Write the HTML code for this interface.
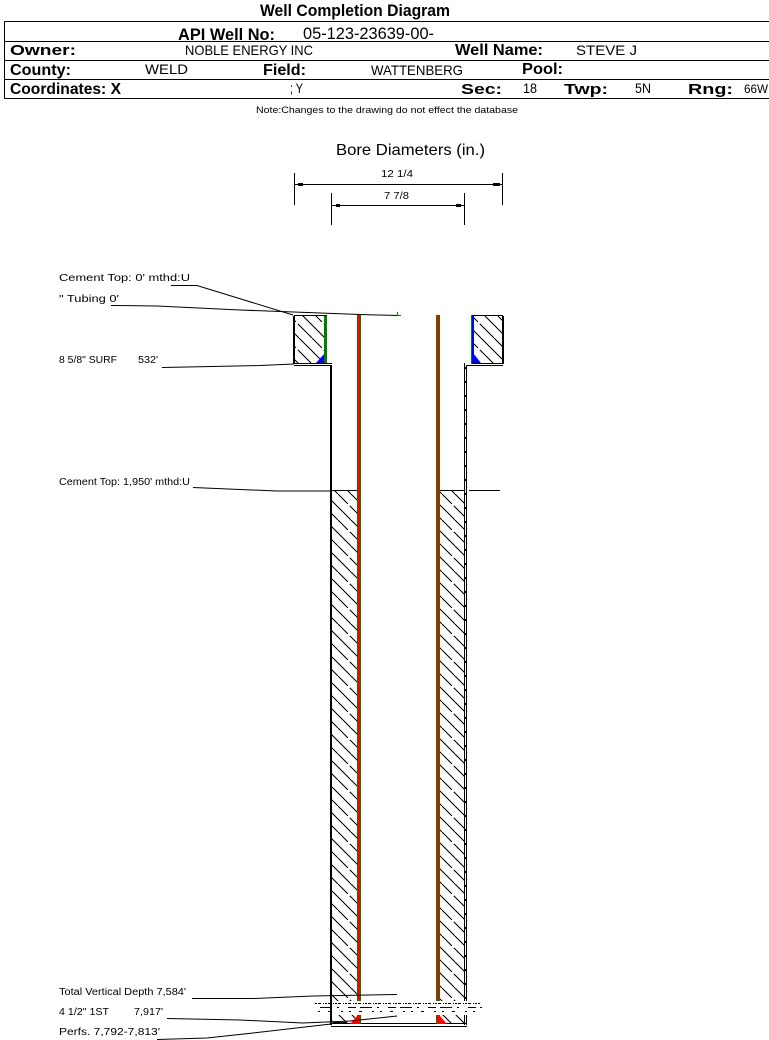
<!DOCTYPE html>
<html>
<head>
<meta charset="utf-8">
<style>
html,body{margin:0;padding:0;background:#fff;width:769px;height:1040px;overflow:hidden}
svg{display:block}
text{font-family:"Liberation Sans",sans-serif;fill:#000}
.c{shape-rendering:crispEdges}
</style>
</head>
<body>
<svg width="769" height="1040" viewBox="0 0 769 1040" xmlns="http://www.w3.org/2000/svg">
<defs>
<pattern id="h" width="26" height="26" patternUnits="userSpaceOnUse">
<path class="c" d="M-1,-1L10,10M12,12L27,27M12,-1L27,14M-1,12L13,26" stroke="#000" stroke-width="1" fill="none"/>
</pattern>
</defs>

<text x="260" y="16" font-size="16.5" font-weight="bold" textLength="190" lengthAdjust="spacingAndGlyphs">Well Completion Diagram</text>

<g class="c" fill="none" stroke="#000" stroke-width="1">
<path d="M4.5,21.5H769M4.5,41.5H769M4.5,60.5H769M4.5,79.5H769M4.5,98.5H769M4.5,21.5V98.5"/>
</g>

<text x="178" y="40" font-size="16.5" font-weight="bold" textLength="97" lengthAdjust="spacingAndGlyphs">API Well No:</text>
<text x="303" y="39" font-size="16.5" textLength="131" lengthAdjust="spacingAndGlyphs">05-123-23639-00-</text>
<text x="10" y="55" font-size="15" font-weight="bold" textLength="66" lengthAdjust="spacingAndGlyphs">Owner:</text>
<text x="185" y="55" font-size="14" textLength="128" lengthAdjust="spacingAndGlyphs">NOBLE ENERGY INC</text>
<text x="455" y="55" font-size="16" font-weight="bold" textLength="88" lengthAdjust="spacingAndGlyphs">Well Name:</text>
<text x="576" y="55" font-size="14" textLength="61" lengthAdjust="spacingAndGlyphs">STEVE J</text>

<text x="10" y="75" font-size="16" font-weight="bold" textLength="61" lengthAdjust="spacingAndGlyphs">County:</text>
<text x="145" y="74" font-size="14" textLength="43" lengthAdjust="spacingAndGlyphs">WELD</text>
<text x="263" y="75" font-size="16" font-weight="bold" textLength="43" lengthAdjust="spacingAndGlyphs">Field:</text>
<text x="371" y="75" font-size="14" textLength="92" lengthAdjust="spacingAndGlyphs">WATTENBERG</text>
<text x="522" y="74" font-size="16" font-weight="bold" textLength="41" lengthAdjust="spacingAndGlyphs">Pool:</text>

<text x="10" y="94" font-size="16" font-weight="bold" textLength="111" lengthAdjust="spacingAndGlyphs">Coordinates: X</text>
<text x="290" y="93" font-size="14" textLength="13" lengthAdjust="spacingAndGlyphs">; Y</text>
<text x="461" y="94" font-size="15" font-weight="bold" textLength="41" lengthAdjust="spacingAndGlyphs">Sec:</text>
<text x="523" y="93" font-size="14" textLength="14" lengthAdjust="spacingAndGlyphs">18</text>
<text x="564" y="94" font-size="15" font-weight="bold" textLength="44" lengthAdjust="spacingAndGlyphs">Twp:</text>
<text x="635" y="93" font-size="14" textLength="16" lengthAdjust="spacingAndGlyphs">5N</text>
<text x="688" y="94" font-size="15" font-weight="bold" textLength="45" lengthAdjust="spacingAndGlyphs">Rng:</text>
<text x="744" y="93" font-size="12" textLength="24" lengthAdjust="spacingAndGlyphs">66W</text>

<text x="256" y="113" font-size="9.5" textLength="262" lengthAdjust="spacingAndGlyphs">Note:Changes to the drawing do not effect the database</text>

<text x="336" y="155" font-size="16" textLength="149" lengthAdjust="spacingAndGlyphs">Bore Diameters (in.)</text>
<text x="381" y="177" font-size="10.5" textLength="32" lengthAdjust="spacingAndGlyphs">12 1/4</text>
<text x="384" y="199" font-size="10.5" textLength="25" lengthAdjust="spacingAndGlyphs">7 7/8</text>

<g class="c" stroke="#000" stroke-width="1" fill="none">
<path d="M294.5,173V205M502.5,173V205M331.5,193V225M464.5,193V225"/>
<path d="M295,184.5H502M332,205.5H464"/>
</g>
<g class="c" fill="#000">
<rect x="298" y="183" width="5" height="3"/><rect x="493" y="183" width="7" height="3"/>
<rect x="336" y="204" width="4" height="3"/><rect x="456" y="204" width="5" height="3"/>
</g>

<!-- hatch -->
<rect x="295" y="316" width="30" height="47" fill="url(#h)"/>
<rect x="473" y="316" width="29" height="47" fill="url(#h)"/>
<rect x="332" y="491" width="25" height="510" fill="url(#h)"/>
<rect x="440" y="491" width="24" height="510" fill="url(#h)"/>
<rect x="332" y="1015" width="25" height="9" fill="url(#h)"/>
<rect x="440" y="1015" width="24" height="9" fill="url(#h)"/>

<!-- surface casing wedges -->
<path d="M325,353V363H316Z" fill="#00f"/>
<path d="M473,353V363H481Z" fill="#00f"/>
<g class="c">
<rect x="324" y="315" width="3" height="49" fill="#008000"/>
<rect x="471" y="315" width="3" height="49" fill="#00f"/>
<rect x="471" y="315" width="1" height="49" fill="#008000"/>
</g>

<!-- block outlines -->
<g class="c" fill="none" stroke="#000" stroke-width="1">
<path d="M294,315.5H327M472,315.5H503M473,363.5H503"/>
<path d="M294,363.5H332M294,365.5H331"/>
<path d="M464.5,363V1025M466.5,365V1025M466,365.5H503"/>
<path d="M332,1023.5H466M331,1026.5H467"/>
<path d="M332,490.5H358M440,490.5H464"/>
</g>
<g class="c" fill="#000">
<rect x="293" y="316" width="2" height="48"/>
<rect x="502" y="316" width="2" height="48"/>
<rect x="330" y="365" width="2" height="660"/>
</g>
<path class="c" d="M465.5,367V1025" stroke="#000" stroke-width="1" stroke-dasharray="2 12" fill="none"/>

<!-- tubing -->
<g class="c">
<rect x="357" y="315" width="4" height="686" fill="#008000"/>
<rect x="358" y="315" width="2" height="686" fill="#f00"/>
<rect x="436" y="315" width="4" height="686" fill="#008000"/>
<rect x="437" y="315" width="2" height="686" fill="#f00"/>
<rect x="357" y="1015" width="4" height="9" fill="#008000"/>
<rect x="436" y="1015" width="4" height="9" fill="#008000"/>
</g>
<path d="M350,1024L358,1015H360V1024Z" fill="#f00"/>
<path d="M437,1015H439L447,1024H437Z" fill="#f00"/>

<!-- gap with dashes -->
<rect x="315" y="1001" width="168" height="14" fill="#fff" class="c"/>
<g class="c" fill="none" stroke="#000" stroke-width="1">
<path d="M315,1003.5H480" stroke-dasharray="2 1 3 2 1 1"/>
<path d="M320,1007.5H482" stroke-dasharray="12 5 2 9 8 4"/>
<path d="M318,1011.5H478" stroke-dasharray="2 8 3 10 2 6"/>
</g>
<path class="c" d="M331,1001V1015" stroke="#000" stroke-width="2"/>

<!-- leader lines -->
<g fill="none" stroke="#000" stroke-width="1">
<path d="M171,285.5H197L293,315"/>
<path d="M111,305.5L157,306L240,310L360,314.5L398,315.5"/>
<path d="M162,367.5L260,365.5L294,364"/>
<path d="M193,487.5L277,491H331M469,490.5H500"/>
<path d="M192,998.5H253L313,996L397,994.5"/>
<path d="M167,1018.5L240,1020L303,1023L350,1021L397,1016"/>
<path d="M157,1039.5L207,1038L253,1033L331,1024"/>
</g>
<path class="c" d="M397.5,312V316M397,315.5H401" stroke="#008000" fill="none"/>
<rect class="c" x="333" y="1022" width="13" height="2" fill="#000"/>

<!-- labels -->
<g font-size="10">
<text x="59" y="281" textLength="131" lengthAdjust="spacingAndGlyphs">Cement Top: 0' mthd:U</text>
<text x="59" y="302" textLength="60" lengthAdjust="spacingAndGlyphs">" Tubing 0'</text>
<text x="59" y="363" textLength="58" lengthAdjust="spacingAndGlyphs">8 5/8" SURF</text>
<text x="138" y="363" textLength="20" lengthAdjust="spacingAndGlyphs">532'</text>
<text x="59" y="485" textLength="131" lengthAdjust="spacingAndGlyphs">Cement Top: 1,950' mthd:U</text>
<text x="59" y="995" textLength="127" lengthAdjust="spacingAndGlyphs">Total Vertical Depth 7,584'</text>
<text x="59" y="1015" textLength="50" lengthAdjust="spacingAndGlyphs">4 1/2" 1ST</text>
<text x="134" y="1015" textLength="29" lengthAdjust="spacingAndGlyphs">7,917'</text>
<text x="59" y="1035" textLength="101" lengthAdjust="spacingAndGlyphs">Perfs. 7,792-7,813'</text>
</g>
</svg>
</body>
</html>
